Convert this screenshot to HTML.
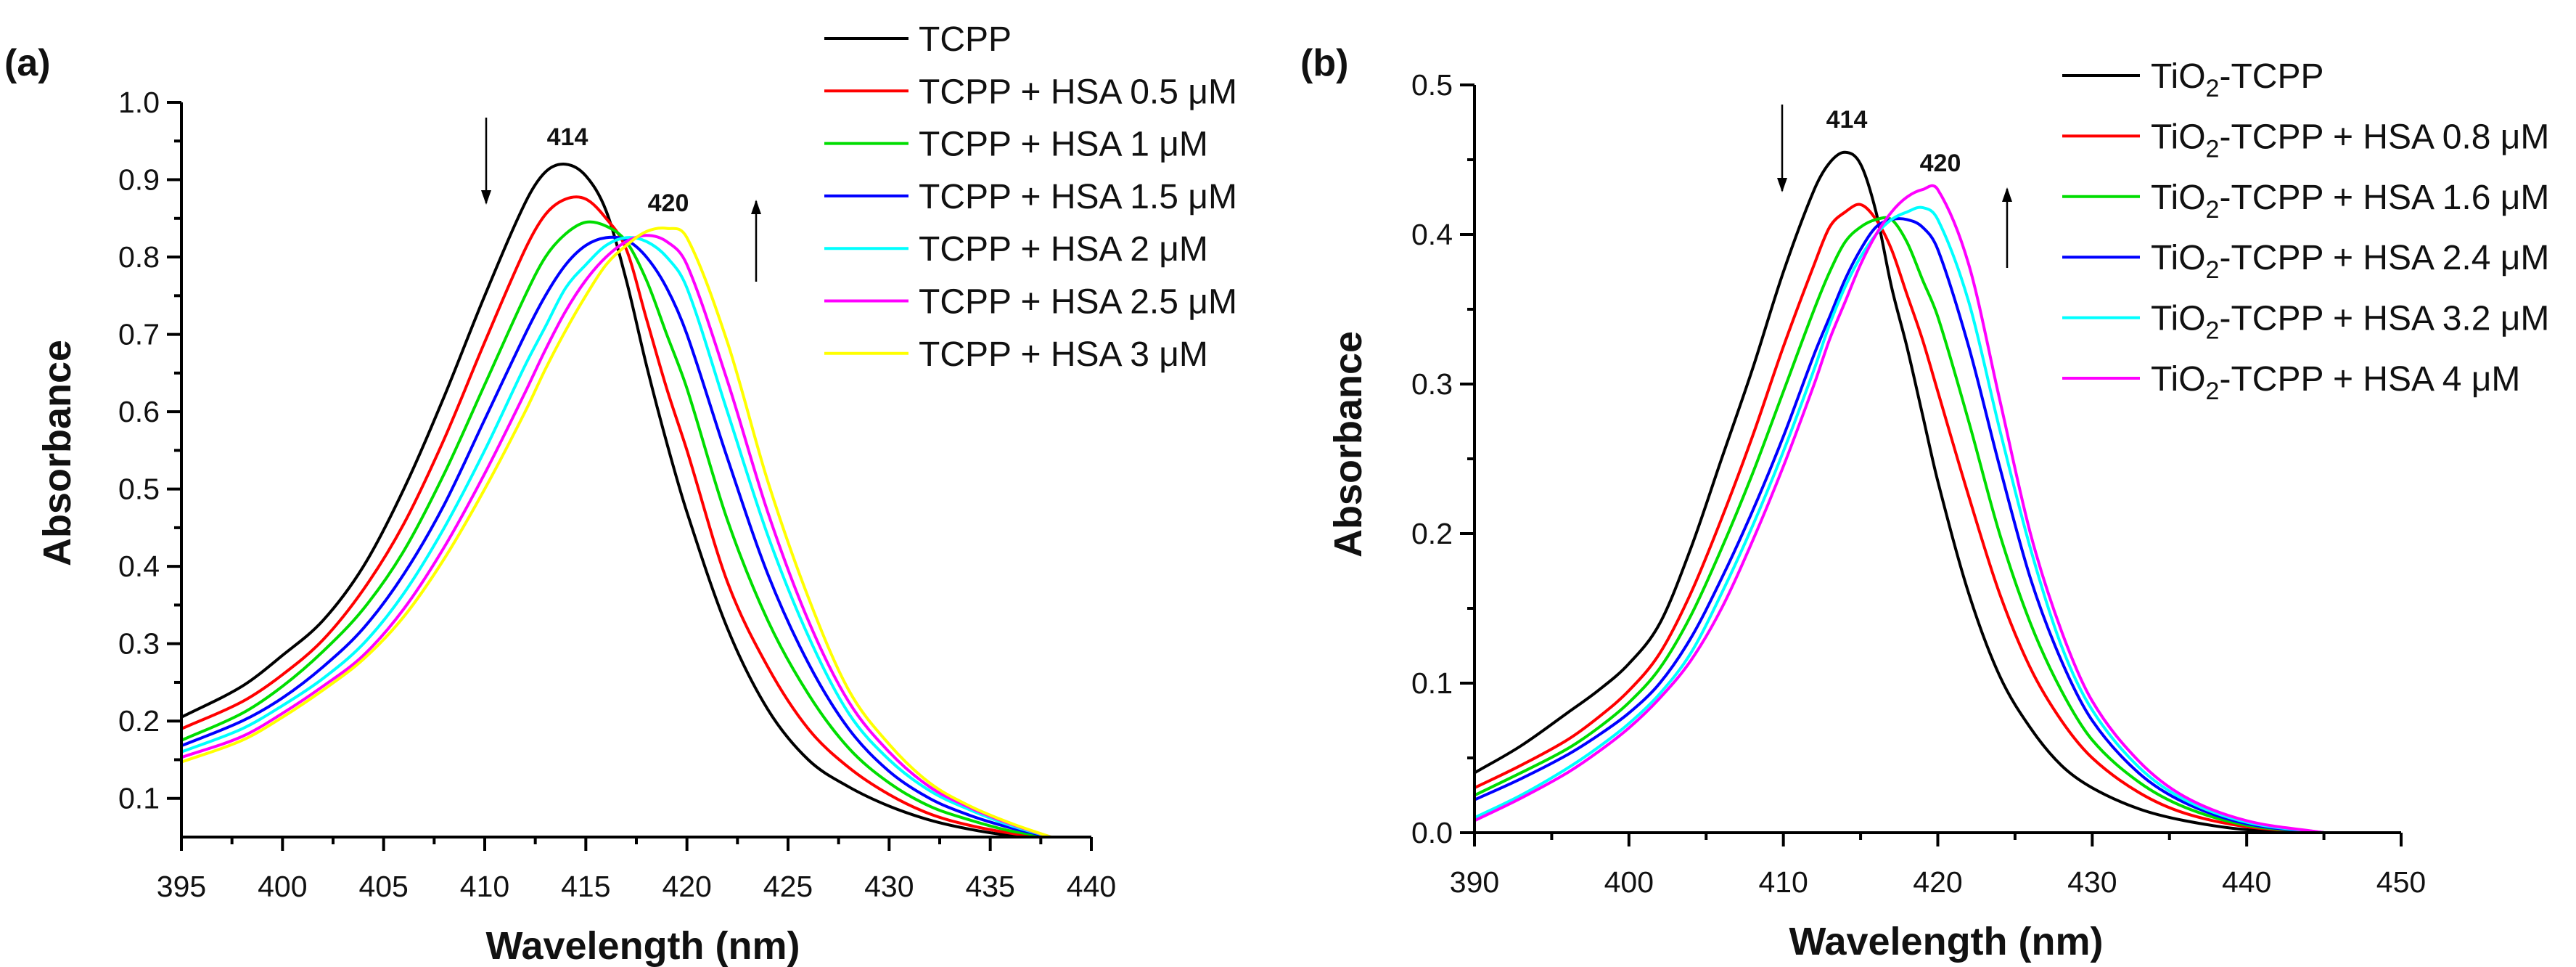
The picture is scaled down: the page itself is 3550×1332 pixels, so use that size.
<!DOCTYPE html>
<html><head><meta charset="utf-8"><style>
html,body{margin:0;padding:0;background:#fff;}
svg{display:block;font-family:"Liberation Sans",Arial,sans-serif;}
</style></head><body>
<svg id="fig" width="3550" height="1332" viewBox="0 0 3550 1332" xmlns="http://www.w3.org/2000/svg">
<defs>
<clipPath id="clipA"><rect x="250" y="100" width="1256" height="1053"/></clipPath>
<clipPath id="clipB"><rect x="2032" y="80" width="1279" height="1067"/></clipPath>
<marker id="arr" markerWidth="20" markerHeight="14" refX="18" refY="7" orient="auto" markerUnits="userSpaceOnUse" viewBox="0 0 20 14"><path d="M0,0 L20,7 L0,14 Z" fill="#000"/></marker>
</defs>
<g id="panelA"></g>
<g id="panelB"></g>
</svg>
<script>
// ---------- Panel (a) data ----------
const wlA = [395,398,400,402,404,406,408,410,412,413,414,415,416,417,418,419,420,422,424,426,428,430,432,434,436,438];
const tcpp      = [0.205,0.245,0.285,0.33,0.40,0.50,0.62,0.75,0.87,0.91,0.92,0.905,0.86,0.77,0.66,0.56,0.47,0.32,0.215,0.15,0.115,0.09,0.072,0.06,0.052,0.048];
const hsa05     = [0.19,0.225,0.26,0.305,0.37,0.455,0.565,0.69,0.81,0.855,0.875,0.875,0.85,0.81,0.72,0.63,0.55,0.38,0.27,0.19,0.14,0.105,0.08,0.065,0.055,0.048];
const hsa1      = [0.175,0.21,0.245,0.29,0.345,0.42,0.52,0.635,0.75,0.80,0.83,0.845,0.84,0.82,0.77,0.70,0.63,0.46,0.33,0.235,0.165,0.12,0.09,0.072,0.058,0.05];
const hsa15     = [0.168,0.20,0.23,0.27,0.32,0.39,0.48,0.59,0.70,0.75,0.79,0.815,0.825,0.822,0.80,0.76,0.70,0.54,0.39,0.275,0.19,0.135,0.10,0.078,0.062,0.05];
const hsa2      = [0.16,0.19,0.22,0.255,0.30,0.365,0.45,0.55,0.66,0.71,0.76,0.79,0.815,0.825,0.82,0.80,0.76,0.60,0.44,0.31,0.21,0.15,0.11,0.085,0.065,0.05];
const hsa25     = [0.153,0.18,0.21,0.245,0.285,0.345,0.425,0.52,0.625,0.68,0.73,0.77,0.80,0.82,0.828,0.82,0.79,0.64,0.47,0.33,0.225,0.16,0.115,0.088,0.067,0.05];
const hsa3      = [0.147,0.175,0.205,0.24,0.28,0.335,0.41,0.50,0.60,0.655,0.705,0.75,0.79,0.815,0.833,0.837,0.825,0.69,0.51,0.36,0.24,0.17,0.12,0.09,0.068,0.05];
const labelsA = ["TCPP","TCPP + HSA 0.5 \u03bcM","TCPP + HSA 1 \u03bcM","TCPP + HSA 1.5 \u03bcM","TCPP + HSA 2 \u03bcM","TCPP + HSA 2.5 \u03bcM","TCPP + HSA 3 \u03bcM"];
const colorsA = ["#000000","#ff0000","#00dd00","#0000ff","#00ffff","#ff00ff","#ffff00"];
const xTicksA = [395,400,405,410,415,420,425,430,435,440];
const yTicksA = [0.1,0.2,0.3,0.4,0.5,0.6,0.7,0.8,0.9,1.0];

// ---------- Panel (b) data ----------
const wlB = [390,393,396,398,400,402,404,406,408,410,412,413,414,415,416,417,418,419,420,422,424,426,428,430,433,436,440,445];
const tio2     = [0.04,0.058,0.08,0.095,0.113,0.14,0.19,0.25,0.31,0.375,0.43,0.448,0.455,0.447,0.415,0.365,0.325,0.28,0.235,0.16,0.105,0.07,0.045,0.03,0.016,0.008,0.002,0];
const tHsa08   = [0.03,0.045,0.062,0.077,0.095,0.12,0.16,0.21,0.265,0.325,0.38,0.405,0.415,0.42,0.41,0.39,0.36,0.33,0.295,0.225,0.16,0.11,0.075,0.05,0.027,0.013,0.004,0];
const tHsa16   = [0.025,0.04,0.056,0.07,0.087,0.11,0.145,0.19,0.24,0.295,0.35,0.375,0.395,0.405,0.41,0.41,0.395,0.37,0.345,0.275,0.20,0.14,0.095,0.062,0.034,0.017,0.005,0];
const tHsa24   = [0.022,0.036,0.052,0.065,0.08,0.10,0.13,0.17,0.215,0.265,0.32,0.345,0.37,0.39,0.405,0.41,0.41,0.405,0.39,0.325,0.245,0.17,0.115,0.075,0.04,0.02,0.006,0];
const tHsa32   = [0.01,0.025,0.043,0.057,0.073,0.093,0.12,0.16,0.205,0.255,0.31,0.34,0.365,0.385,0.40,0.41,0.415,0.418,0.41,0.355,0.27,0.19,0.125,0.082,0.044,0.022,0.007,0];
const tHsa40   = [0.008,0.023,0.04,0.054,0.07,0.09,0.115,0.15,0.195,0.245,0.30,0.33,0.355,0.38,0.40,0.415,0.425,0.43,0.43,0.38,0.29,0.20,0.135,0.088,0.048,0.024,0.008,0];
const labelsB = ["0.8 \u03bcM","1.6 \u03bcM","2.4 \u03bcM","3.2 \u03bcM","4 \u03bcM"];
const colorsB = ["#000000","#ff0000","#00dd00","#0000ff","#00ffff","#ff00ff"];
const xTicksB = [390,400,410,420,430,440,450];
const yTicksB = [0.0,0.1,0.2,0.3,0.4,0.5];

const NS = "http://www.w3.org/2000/svg";
function mk(tag, attrs, parent){
  const e = document.createElementNS(NS, tag);
  for (const k in attrs) e.setAttribute(k, attrs[k]);
  parent.appendChild(e);
  return e;
}
// cubic Hermite with slopes from neighbours (handles uneven spacing)
function smoothPath(pts){
  const n = pts.length;
  const m = [];
  for (let i=0;i<n;i++){
    const a = pts[Math.max(0,i-1)], b = pts[Math.min(n-1,i+1)];
    m.push((b[1]-a[1])/(b[0]-a[0]));
  }
  let d = "M" + pts[0][0].toFixed(1) + "," + pts[0][1].toFixed(1);
  for (let i=0;i<n-1;i++){
    const p1 = pts[i], p2 = pts[i+1], h = (p2[0]-p1[0])/3;
    d += " C" + (p1[0]+h).toFixed(1)+","+(p1[1]+m[i]*h).toFixed(1)+" "+(p2[0]-h).toFixed(1)+","+(p2[1]-m[i+1]*h).toFixed(1)+" "+p2[0].toFixed(1)+","+p2[1].toFixed(1);
  }
  return d;
}

function drawPanel(g, cfg){
  const X = v => cfg.x0 + (v - cfg.xmin) / (cfg.xmax - cfg.xmin) * (cfg.x1 - cfg.x0);
  const Y = v => cfg.y0 - (v - cfg.ymin) / (cfg.ymax - cfg.ymin) * (cfg.y0 - cfg.y1);
  const sg = mk("g", {"clip-path": "url(#" + cfg.clip + ")"}, g);
  
  
  cfg.series.forEach((s, i) => {
    const pts = cfg.wl.map((w, j) => [X(w), Y(s[j])]);
    const p = mk("path", {d: smoothPath(pts), fill: "none", stroke: cfg.colors[i], "stroke-width": 4, "stroke-linejoin": "round"}, sg);
    
    
  });
  const ax = mk("path", {d: "M" + cfg.x0 + "," + cfg.y1top + " L" + cfg.x0 + "," + cfg.y0 + " L" + cfg.x1 + "," + cfg.y0, fill: "none", stroke: "#000", "stroke-width": 4}, g);
  
  
  cfg.xTicks.forEach(t => {
    const tk = mk("line", {x1: X(t), x2: X(t), y1: cfg.y0, y2: cfg.y0 + 19, stroke: "#000", "stroke-width": 4}, g);
    
    
    const tl = mk("text", {x: X(t), y: cfg.y0 + 82, "font-size": 41, "text-anchor": "middle", fill: "#111"}, g);
    tl.textContent = String(t);
    
    
  });
  for (let t = cfg.xmin + cfg.xMinor; t < cfg.xmax; t += cfg.xMinor * 2) {
    const mt = mk("line", {x1: X(t), x2: X(t), y1: cfg.y0, y2: cfg.y0 + 10, stroke: "#000", "stroke-width": 4}, g);
    
    
  }
  cfg.yTicks.forEach(t => {
    const tk = mk("line", {x1: cfg.x0 - 20, x2: cfg.x0, y1: Y(t), y2: Y(t), stroke: "#000", "stroke-width": 4}, g);
    
    
    const tl = mk("text", {x: cfg.x0 - 30, y: Y(t) + 14, "font-size": 41, "text-anchor": "end", fill: "#111"}, g);
    tl.textContent = t.toFixed(1);
    
    
  });
  cfg.yMinors.forEach(t => {
    const mt = mk("line", {x1: cfg.x0 - 10, x2: cfg.x0, y1: Y(t), y2: Y(t), stroke: "#000", "stroke-width": 4}, g);
    
    
  });
  const xt = mk("text", {x: cfg.xTitleX, y: cfg.y0 + 168, "font-size": 54, "font-weight": "bold", "text-anchor": "middle", fill: "#111"}, g);
  xt.textContent = "Wavelength (nm)";
  
  
  const yt = mk("text", {x: 0, y: 0, "font-size": 54, "font-weight": "bold", "text-anchor": "middle", fill: "#111", transform: "translate(" + (cfg.yTitleX) + "," + cfg.yTitleY + ") rotate(-90)"}, g);
  yt.textContent = "Absorbance";
  
  
  return {X, Y};
}

function addText(g, x, y, txt, size, bold, name){
  const t = mk("text", {x: x, y: y, "font-size": size, "font-weight": bold ? "bold" : "normal", fill: "#111"}, g);
  t.textContent = txt;
  
  
  return t;
}
function addArrow(g, x, yFrom, yTo, name){
  const a = mk("line", {x1: x, x2: x, y1: yFrom, y2: yTo, stroke: "#000", "stroke-width": 2.5, "marker-end": "url(#arr)"}, g);
  
  
}

// ----- Panel A -----
const gA = document.getElementById("panelA");
const yMinA = [];
for (let k = 1; k <= 19; k++) yMinA.push(k * 0.05);
drawPanel(gA, {
  x0: 250, x1: 1504, y0: 1153, y1: 141, y1top: 141,
  xmin: 395, xmax: 440, ymin: 0.05, ymax: 1.0,
  wl: wlA, series: [tcpp, hsa05, hsa1, hsa15, hsa2, hsa25, hsa3], colors: colorsA,
  xTicks: xTicksA, yTicks: yTicksA, xMinor: 2.5, yMinors: yMinA.filter(v => Math.round(v*100) % 10 !== 0 && v > 0.06),
  clip: "clipA", xTitleX: 886, yTitleX: 97, yTitleY: 624
});
addText(gA, 6, 104, "(a)", 52, true, "panel-label-a");
const pkA1 = addText(gA, 782, 200, "414", 34, true, "peak-label-414"); pkA1.setAttribute("text-anchor","middle");
const pkA2 = addText(gA, 921, 291, "420", 34, true, "peak-label-420"); pkA2.setAttribute("text-anchor","middle");
addArrow(gA, 670, 162, 280, "decrease-arrow");
addArrow(gA, 1042, 388, 277, "increase-arrow");
labelsA.forEach((lab, i) => {
  const y = 53 + i * 72.3;
  const ln = mk("line", {x1: 1136, x2: 1252, y1: y, y2: y, stroke: colorsA[i], "stroke-width": 4}, gA);
  
  
  addText(gA, 1266, y + 17, lab, 48, false, "legend-entry");
});

// ----- Panel B -----
const gB = document.getElementById("panelB");
const yMinB = [0.05,0.15,0.25,0.35,0.45];
drawPanel(gB, {
  x0: 2032, x1: 3309, y0: 1147, y1: 117, y1top: 117,
  xmin: 390, xmax: 450, ymin: 0.0, ymax: 0.5,
  wl: wlB, series: [tio2, tHsa08, tHsa16, tHsa24, tHsa32, tHsa40], colors: colorsB,
  xTicks: xTicksB, yTicks: yTicksB, xMinor: 5, yMinors: yMinB,
  clip: "clipB", xTitleX: 2682, yTitleX: 1876, yTitleY: 612
});
addText(gB, 1792, 104, "(b)", 52, true, "panel-label-b");
const pkB1 = addText(gB, 2545, 176, "414", 34, true, "peak-label-414"); pkB1.setAttribute("text-anchor","middle");
const pkB2 = addText(gB, 2674, 236, "420", 34, true, "peak-label-420"); pkB2.setAttribute("text-anchor","middle");
addArrow(gB, 2456, 144, 263, "decrease-arrow");
addArrow(gB, 2766, 369, 260, "increase-arrow");
for (let i = 0; i < 6; i++) {
  const y = 104 + i * 83.4;
  const ln = mk("line", {x1: 2842, x2: 2949, y1: y, y2: y, stroke: colorsB[i], "stroke-width": 4}, gB);
  
  
  const t = mk("text", {x: 2964, y: y + 17, "font-size": 48, fill: "#111"}, gB);
  
  
  const a = mk("tspan", {}, t); a.textContent = "TiO";
  const s = mk("tspan", {dy: 12, "font-size": 34}, t); s.textContent = "2";
  const r = mk("tspan", {dy: -12}, t); r.textContent = i === 0 ? "-TCPP" : "-TCPP + HSA " + labelsB[i-1];
}
</script>
</body></html>
